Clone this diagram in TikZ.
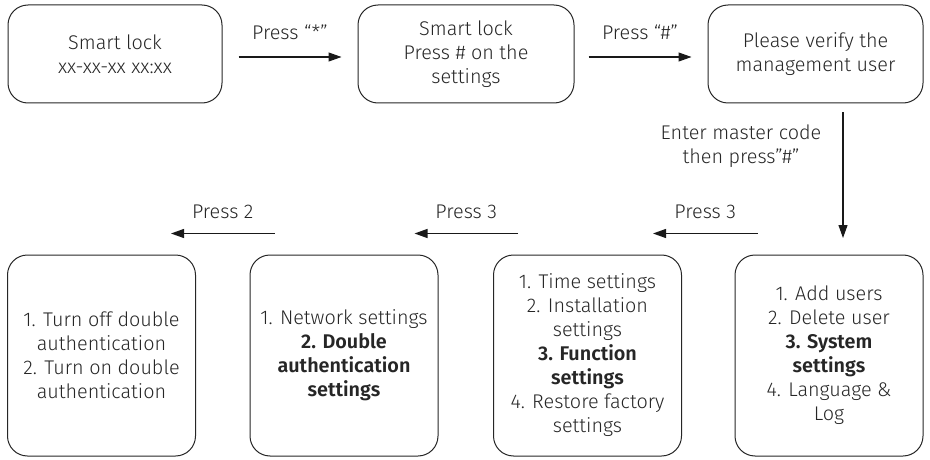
\documentclass[tikz,border=0pt]{standalone}
\usepackage{fontspec}
\setmainfont{Fira Sans Light}[BoldFont={Fira Sans SemiBold}]
\usetikzlibrary{arrows.meta,calc}
\tikzset{
	every node/.style={text=black!85, font=\fontsize{19.8}{24}\selectfont},
	box/.style={draw=black!85, line width=1pt, rounded corners=20pt, align=center, inner sep=0pt},
	topbox/.style={box, minimum height=98pt},
	menubox/.style={box, minimum width=188pt, minimum height=201pt},
	flow/.style={-{Triangle[length=13pt,width=9pt]}, line width=1.1pt, draw=black!90},
	lbl/.style={inner sep=0pt}
}

\begin{document}
\begin{tikzpicture}[x=1pt,y=-1pt]
		\useasboundingbox (0,0) rectangle (930,460);

		\node[topbox, minimum width=214pt] (idle) at (115,54) {Smart lock\\xx-xx-xx xx:xx};
		\node[topbox, minimum width=216pt] (hint) at (466,54) {Smart lock\\Press \# on the\\settings};
		\node[topbox, minimum width=215pt] (verify) at (815.5,54) {Please verify the\\management user};

		\node[menubox] (sys) at (829,355.5) {1. Add users\\2. Delete user\\\textbf{3. System}\\\textbf{settings}\\4. Language \&\\Log};
		\node[menubox] (func) at (587.5,355.5) {1. Time settings\\2. Installation\\settings\\\textbf{3. Function}\\\textbf{settings}\\4. Restore factory\\settings};
		\node[menubox] (dbl) at (344,355.5) {1. Network settings\\\textbf{2. Double}\\\textbf{authentication}\\\textbf{settings}};
		\node[menubox] (onoff) at (101.5,355.5) {1. Turn off double\\authentication\\2. Turn on double\\authentication};

		\draw[flow] ([xshift=16pt,yshift=-3pt]idle.east) -- node[lbl, above=17pt] {Press “*”} ([xshift=-16pt,yshift=-3pt]hint.west);
		\draw[flow] ([xshift=14pt,yshift=-3pt]hint.east) -- node[lbl, above=17pt] {Press “\#”} ([xshift=-16pt,yshift=-3pt]verify.west);

		\coordinate (enter) at (843,238);
		\draw[flow] ($(enter |- verify.south)+(0,9)$) -- (enter);
		\node[lbl, align=center] (code) at (741,146) {Enter master code\\then press"\#"};

		\draw[flow] ($(sys.north west)+(23,-21)$) -- node[lbl, above=14pt] {Press 3} ($(func.north east)+(-29,-21)$);
		\draw[flow] ($(func.north west)+(25,-21)$) -- node[lbl, above=14pt] {Press 3} ($(dbl.north east)+(-24,-21)$);
		\draw[flow] ($(dbl.north west)+(25,-21)$) -- node[lbl, above=14pt] {Press 2} ($(onoff.north east)+(-25,-21)$);
	\end{tikzpicture}
\end{document}
